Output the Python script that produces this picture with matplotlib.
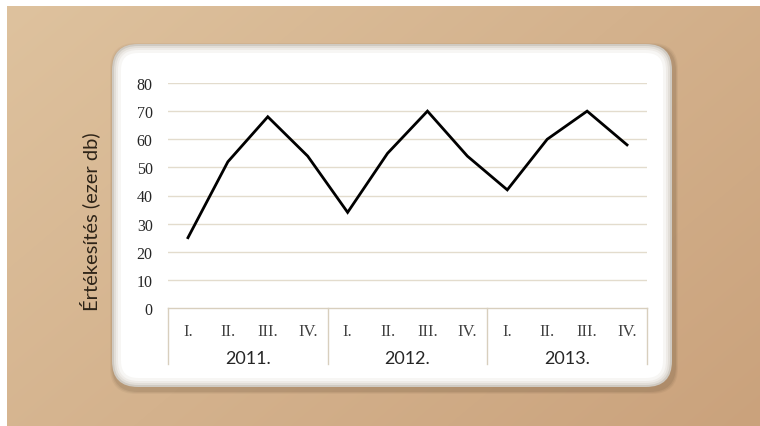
import numpy as np
from matplotlib import pyplot as plt
from matplotlib.patches import FancyBboxPatch
from matplotlib import transforms

quarters = ["I.", "II.", "III.", "IV."]
years = ["2011.", "2012.", "2013."]
sales = [25, 52, 68, 54, 34, 55, 70, 54, 42, 60, 70, 58]
y_ticks = [0, 10, 20, 30, 40, 50, 60, 70, 80]
y_label = "Értékesítés (ezer db)"

W, H = 760, 427
fig = plt.figure(figsize=(W / 100, H / 100), dpi=100)
fig.patch.set_facecolor("white")

# background layer in pixel coordinates
bg = fig.add_axes([0, 0, 1, 1])
bg.set_xlim(0, W)
bg.set_ylim(H, 0)
bg.axis("off")

# kraft paper: soft diagonal shading
yy, xx = np.mgrid[0:H, 0:W]
t = (xx / W * 0.6 + yy / H * 0.4)
light = np.array([222, 194, 158]) / 255
dark = np.array([202, 162, 124]) / 255
paper = light[None, None, :] * (1 - t[..., None]) + dark[None, None, :] * t[..., None]
bg.imshow(paper, extent=[7, W, H, 7], aspect="auto", zorder=0)

# white panel with soft shadow and bevelled rim
px0, py0, px1, py1 = 112, 45, 672, 388
for i, a in enumerate([0.05, 0.07, 0.09]):
    g = 4 - i
    bg.add_patch(FancyBboxPatch((px0 - g + 2, py0 - g + 3), px1 - px0 + 2 * g, py1 - py0 + 2 * g,
                                boxstyle="round,pad=0,rounding_size=26",
                                fc=(0.25, 0.18, 0.1, a), ec="none", zorder=1))
rim = [(0, "#cfcac2"), (2, "#e2ded8"), (4, "#eeebe7"), (6, "#f7f6f4"), (9, "#ffffff")]
for inset, col in rim:
    bg.add_patch(FancyBboxPatch((px0 + inset, py0 + inset), px1 - px0 - 2 * inset, py1 - py0 - 2 * inset,
                                boxstyle="round,pad=0,rounding_size=%d" % max(26 - inset, 4),
                                fc=col, ec="none", zorder=2))

# plot area
x0, x1 = 168, 647
y80, y0 = 84, 309
ax = fig.add_axes([x0 / W, 1 - y0 / H, (x1 - x0) / W, (y0 - y80) / H])
ax.patch.set_alpha(0)
ax.set_xlim(-0.5, len(sales) - 0.5)
ax.set_ylim(0, 80)
for s in ax.spines.values():
    s.set_visible(False)

grid_col = "#e3dccd"
for v in y_ticks[1:]:
    ax.axhline(v, color=grid_col, lw=1, zorder=1)
ax.axhline(0, color="#d8cfbe", lw=1, zorder=1, clip_on=False)

ax.plot(range(len(sales)), sales, color="black", lw=2.0, solid_joinstyle="miter", zorder=3)

serif = "Liberation Serif"
sans = "Lato"
ax.set_yticks(y_ticks)
ax.set_yticklabels([str(v) for v in y_ticks], family=serif, fontsize=11.5, color="#262626")
ax.tick_params(axis="y", length=0, pad=11)

ax.set_xticks(range(len(sales)))
ax.set_xticklabels(quarters * len(years), family=serif, fontsize=12, color="#404040")
ax.tick_params(axis="x", length=0, pad=11)

# year groups below the quarter labels
trans = transforms.blended_transform_factory(ax.transData, ax.transAxes)
box_depth = (365 - y0) / (y0 - y80)
for k in range(len(years) + 1):
    ax.plot([k * 4 - 0.5, k * 4 - 0.5], [0, -box_depth], transform=trans,
            color="#d8cfbe", lw=1, clip_on=False)
for k, yr in enumerate(years):
    ax.text(k * 4 + 1.5, -(359 - y0) / (y0 - y80), yr, transform=trans,
            ha="center", va="center", family=sans, fontsize=13, color="#262626")

fig.text(90 / W, 1 - 222 / H, y_label, rotation=90, ha="center", va="center",
         family=sans, fontsize=14.5, color="#2e2418")

fig.savefig("out.png", dpi=100)
